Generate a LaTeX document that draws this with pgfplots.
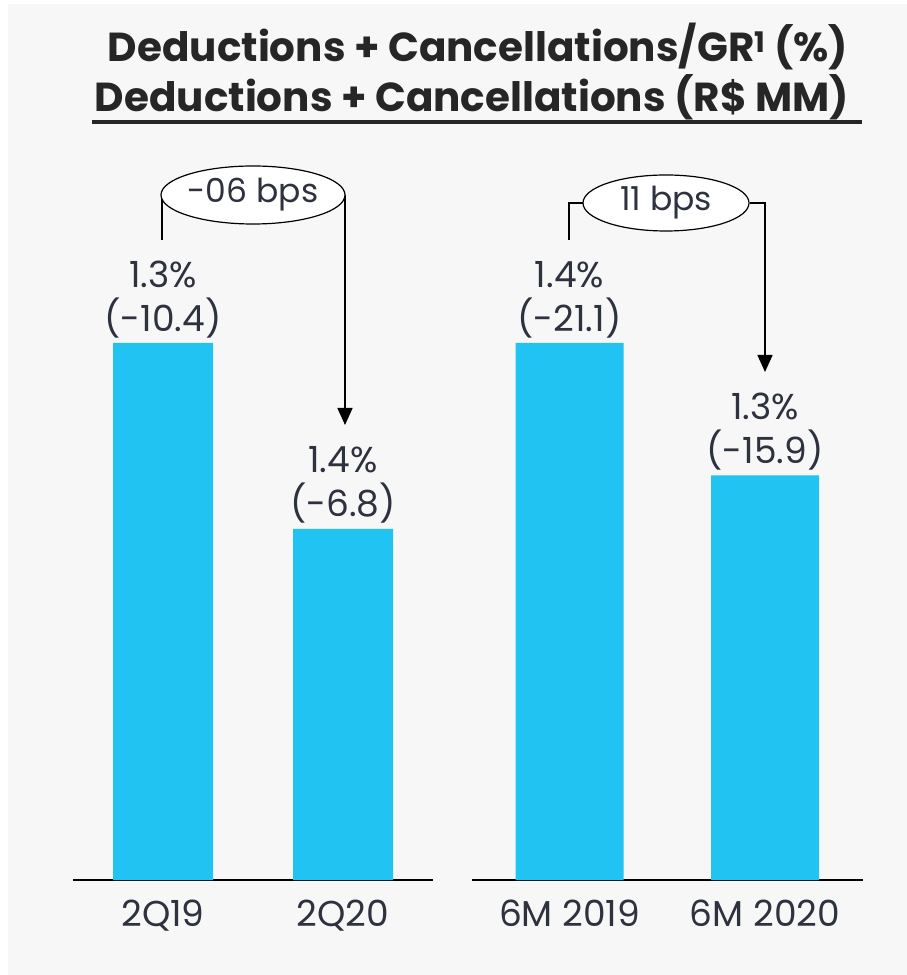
\documentclass[border=0pt]{standalone}
\usepackage{pgfplots}
\pgfplotsset{compat=1.18}
\usepackage{fontspec}
\setmainfont{Poppins}
\usetikzlibrary{arrows.meta}
\definecolor{barblue}{RGB}{33,195,243}
\definecolor{txt}{RGB}{45,50,62}
\definecolor{bg}{RGB}{247,247,247}

\pgfplotsset{
  dedbars/.style={
    scale only axis,
    height=537pt,
    ymin=0,
    axis x line*=bottom,
    hide y axis,
    axis line style={line width=1.6pt,black,-},
    xtick=data,
    xtick style={draw=none},
    xmin=-0.5, xmax=1.5,
    clip=false,
    ybar,
    xticklabel style={font=\fontsize{36}{40}\selectfont,text=txt,yshift=-12pt},
    point meta=explicit,
    visualization depends on={y \as \rawy},
    nodes near coords={\pgfmathprintnumber[fixed,fixed zerofill,precision=1,assume math mode=true]{\pgfplotspointmeta}\%\\(-\pgfmathprintnumber[fixed,fixed zerofill,precision=1,assume math mode=true]{\rawy})},
    nodes near coords style={font=\fontsize{36}{44}\selectfont,text=txt,align=center,anchor=south,inner sep=0pt,yshift=5pt},
  }
}

\begin{document}
\begin{tikzpicture}[x=1pt,y=1pt]
\fill[white] (0,0) rectangle (907,975);
\fill[bg] (8,0) rectangle (907,971);

% title
\node[anchor=base,font=\bfseries\fontsize{40.5}{44}\selectfont,text=black!85] at (478,913) {Deductions + Cancellations/GR\textsuperscript{1} (\%)};
\node[anchor=base,font=\bfseries\fontsize{40.5}{44}\selectfont,text=black!85] at (472,863) {Deductions + Cancellations (R\$ MM)};
\fill[black!85] (92,851) rectangle (862,855);

\begin{axis}[dedbars, at={(163pt,95pt)}, anchor=origin, width=360pt, ymax=10.4,
  bar width=100pt, xticklabels={2Q19,2Q20}]
  \addplot[draw=none, fill=barblue] coordinates {(0,10.4) [1.3] (1,6.8) [1.4]};
\end{axis}

\begin{axis}[dedbars, at={(569.5pt,95pt)}, anchor=origin, width=391pt, ymax=21.1,
  bar width=108pt, xticklabels={6M 2019,6M 2020}]
  \addplot[draw=none, fill=barblue] coordinates {(0,21.1) [1.4] (1,15.9) [1.3]};
\end{axis}

% change annotations
\draw[line width=1.6pt] (162,780) -- (162,735);
\draw[line width=1.6pt,-{Triangle[width=15pt,length=17pt]}] (345,780) -- (345,550);
\draw[fill=white,line width=1.2pt] (253,780) ellipse [x radius=92, y radius=29];
\node[font=\fontsize{33}{40}\selectfont,text=txt] at (253,780) {-06 bps};

\draw[line width=1.6pt] (583,772) -- (569,772) -- (569,735);
\draw[line width=1.6pt,-{Triangle[width=15pt,length=17pt]}] (750,772) -- (765,772) -- (765,603);
\draw[fill=white,line width=1.2pt] (666,772) ellipse [x radius=83, y radius=28];
\node[font=\fontsize{33}{40}\selectfont,text=txt] at (666,772) {11 bps};
\end{tikzpicture}
\end{document}
